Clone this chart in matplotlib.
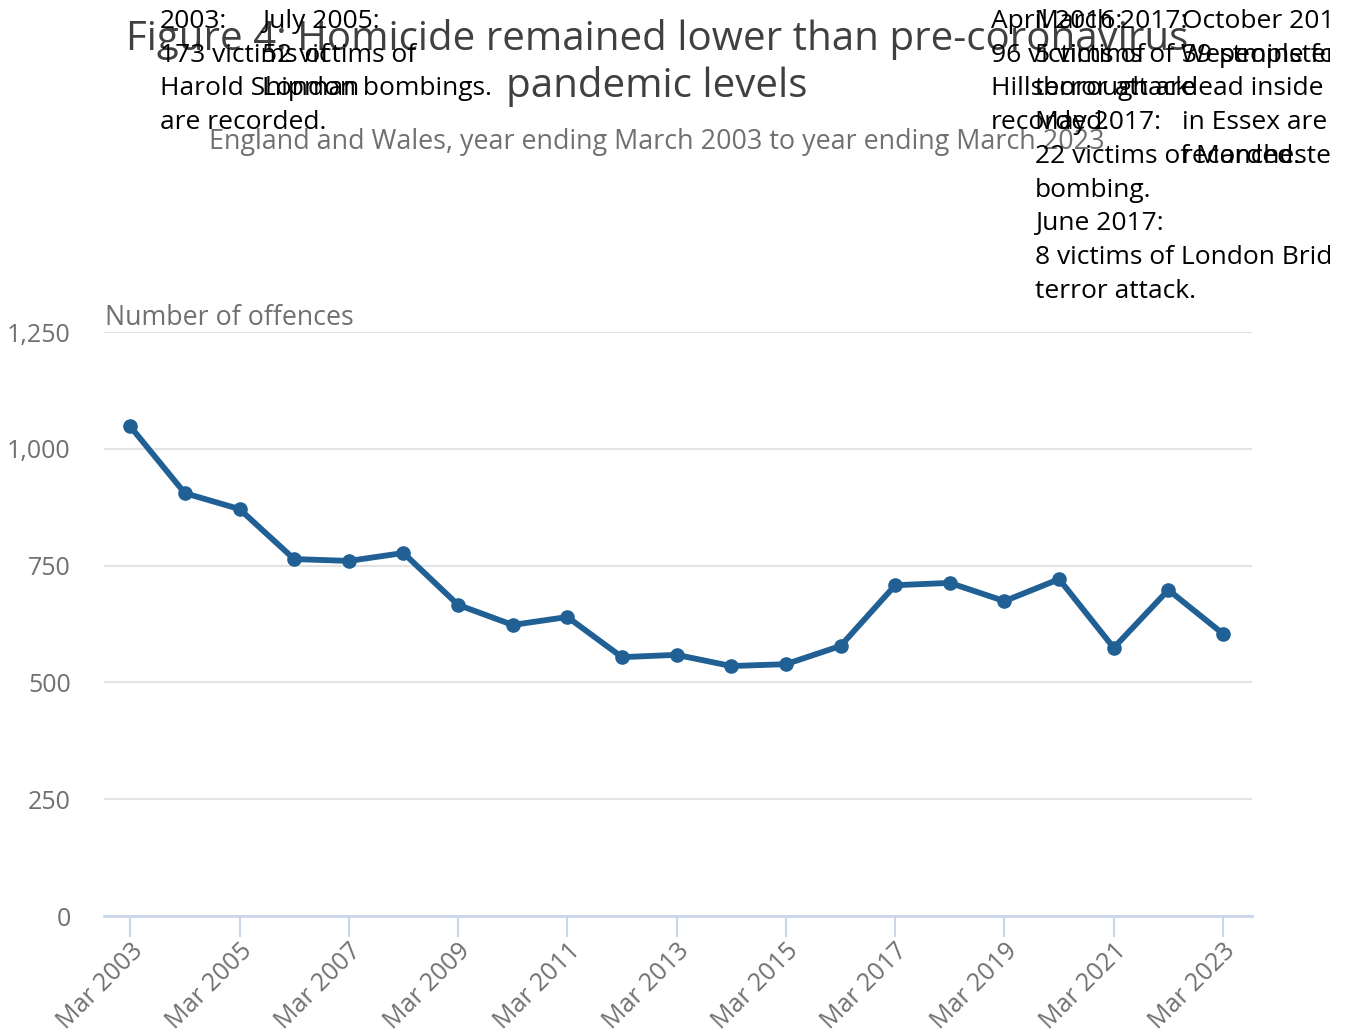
import matplotlib
matplotlib.use("Agg")
import matplotlib.pyplot as plt
from matplotlib.ticker import FuncFormatter
from matplotlib.transforms import Bbox

# Year ending March, number of homicide offences
years = [2003, 2004, 2005, 2006, 2007, 2008, 2009, 2010, 2011, 2012, 2013,
         2014, 2015, 2016, 2017, 2018, 2019, 2020, 2021, 2022, 2023]
offences = [1048, 905, 871, 764, 760, 777, 666, 623, 640, 554, 559,
            535, 539, 578, 708, 713, 674, 721, 574, 698, 604]

tick_years = [2003, 2005, 2007, 2009, 2011, 2013, 2015, 2017, 2019, 2021, 2023]
y_ticks = [0, 250, 500, 750, 1000, 1250]

title = "Figure 4: Homicide remained lower than pre-coronavirus\npandemic levels"
subtitle = "England and Wales, year ending March 2003 to year ending March 2023"
y_label = "Number of offences"

notes = [
    "2003:\n173 victims of\nHarold Shipman\nare recorded.",
    "July 2005:\n52 victims of\nLondon bombings.",
    "April 2016:\n96 victims of\nHillsborough are\nrecorded.",
    "March 2017:\n5 victims of Westminster\nterror attack\nMay 2017:\n22 victims of Manchester\n"
    "bombing.\nJune 2017:\n8 victims of London Bridge\nterror attack.",
    "October 2019:\n39 people found\ndead inside a lorry\nin Essex are\nrecorded.",
]
note_x = [160, 262, 991, 1035, 1182]  # pixel positions of annotation boxes

plt.rcParams["font.family"] = ["Open Sans", "DejaVu Sans"]

W, H = 1351, 1034
fig = plt.figure(figsize=(W / 100, H / 100), dpi=100)
ax = fig.add_axes([104 / W, (H - 916) / H, (1252 - 104) / W, (916 - 332) / H])

blue = "#206095"
grey = "#707070"

ax.plot(years, offences, color=blue, linewidth=4.2, marker="o",
        markersize=9.5, zorder=3, solid_capstyle="round")

ax.set_xlim(2002.52, 2023.53)
ax.set_ylim(0, 1250)
ax.set_yticks(y_ticks)
ax.yaxis.set_major_formatter(FuncFormatter(lambda v, p: f"{int(v):,}"))
ax.set_xticks(tick_years)
ax.set_xticklabels([f"Mar {y}" for y in tick_years], rotation=45,
                   ha="right", rotation_mode="anchor")

ax.grid(axis="y", color="#e3e3e3", linewidth=1.5)
ax.set_axisbelow(True)
for s in ["top", "right", "left"]:
    ax.spines[s].set_visible(False)
ax.spines["bottom"].set_color("#ccd6eb")
ax.spines["bottom"].set_linewidth(2)
ax.tick_params(axis="y", length=0, pad=24, labelsize=18, labelcolor=grey)
ax.tick_params(axis="x", length=15, width=1.5, color="#ccd6eb", pad=1,
               labelsize=18, labelcolor=grey)

fig.text(105 / W, 1 - 318 / H, y_label, fontsize=19.3, color=grey, va="center")

fig.text(657 / W, 1 - 19 / H, title, fontsize=29, color="#404040",
         ha="center", va="top", linespacing=1.2)
fig.text(657 / W, 1 - 142 / H, subtitle, fontsize=19.4, color=grey,
         ha="center", va="center")

# annotations run off the chart container on the right, as in the original
clip = Bbox([[0, 0], [1330, H]])
for x, t in zip(note_x, notes):
    txt = fig.text(x / W, 1 - 9 / H, t, fontsize=19, color="black",
                   ha="left", va="top", linespacing=1.46)
    txt.set_clip_box(clip)
    txt.set_clip_on(True)

fig.savefig("out.png", dpi=100)
